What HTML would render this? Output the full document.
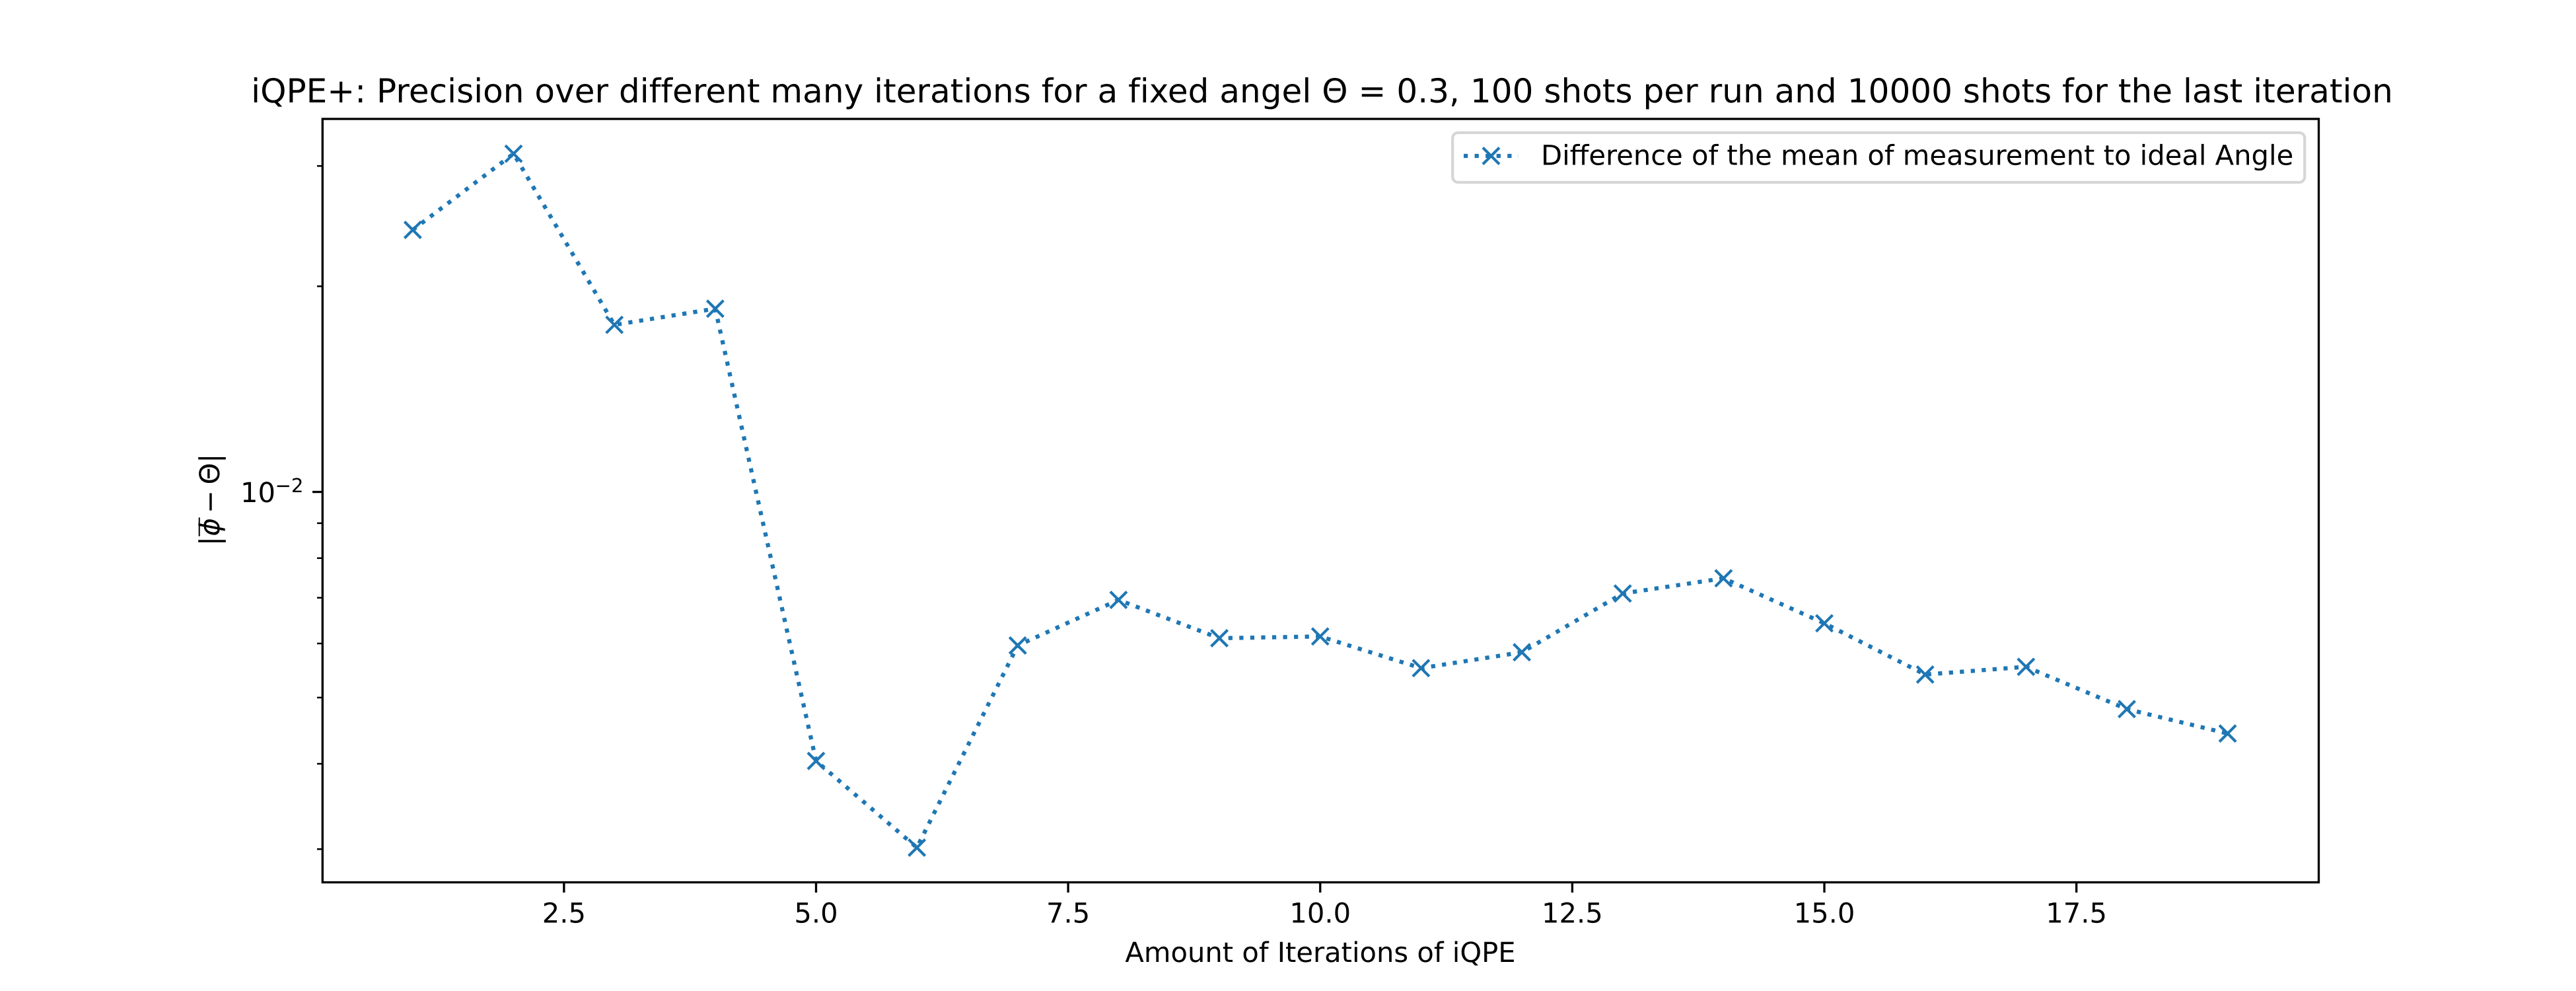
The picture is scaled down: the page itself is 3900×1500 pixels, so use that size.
<!DOCTYPE html>
<html lang="en">
<head>
<meta charset="utf-8">
<title>iQPE+ precision chart</title>
<style>
  html, body { margin: 0; padding: 0; background: #fff; }
  svg { display: block; }
  text { font-family: "DejaVu Sans", "Liberation Sans", sans-serif; fill: #000; text-rendering: geometricPrecision; }
</style>
</head>
<body>
<svg id="chart" xmlns="http://www.w3.org/2000/svg" width="3900" height="1500" viewBox="0 0 3900 1500">
  <rect x="0" y="0" width="3900" height="1500" fill="#ffffff"/>
  <text x="2001.5" y="155" font-size="50" letter-spacing="0.04" text-anchor="middle">iQPE+: Precision over different many iterations for a fixed angel Θ = 0.3, 100 shots per run and 10000 shots for the last iteration</text>
  <g id="ticks"></g>
  <polyline id="series-line" fill="none" stroke="#1f77b4" stroke-width="6.25" stroke-dasharray="6.25 10.31" stroke-linejoin="round"></polyline>
  <g id="markers"></g>
  <rect x="488.3" y="180" width="3022.2" height="1155.5" fill="none" stroke="#000" stroke-width="3.33"/>
  <text x="1999" y="1456" font-size="41.67" text-anchor="middle">Amount of Iterations of iQPE</text>
  <g font-size="41.67">
    <text transform="translate(332 826) rotate(-90)">|</text>
    <text transform="translate(332 811.5) rotate(-90)" font-style="italic">ϕ</text>
    <line x1="301.7" y1="783.3" x2="301.7" y2="811.7" stroke="#000" stroke-width="2"/>
    <text transform="translate(332 777) rotate(-90)">−</text>
    <text transform="translate(332 733.4) rotate(-90)">Θ</text>
    <text transform="translate(332 700.7) rotate(-90)">|</text>
  </g>
  <g>
    <rect x="2199.2" y="200.8" width="1290" height="75.2" rx="8.3" ry="8.3" fill="#ffffff" fill-opacity="0.8" stroke="#cccccc" stroke-opacity="0.8" stroke-width="4.17"/>
    <line x1="2216" y1="236" x2="2299" y2="236" stroke="#1f77b4" stroke-width="6.25" stroke-dasharray="6.25 10.31"/>
    <path d="M2245 223.5L2270 248.5M2245 248.5L2270 223.5" stroke="#1f77b4" stroke-width="4.17" fill="none"/>
    <text x="2333" y="249.3" font-size="41.67">Difference of the mean of measurement to ideal Angle</text>
  </g>
</svg>
<script>
const iterations = [1, 2, 3, 4, 5, 6, 7, 8, 9, 10, 11, 12, 13, 14, 15, 16, 17, 18, 19];
const differences = [0.024185, 0.031266, 0.017562, 0.018544, 0.0040384, 0.0030151, 0.0059597, 0.0069497, 0.0061074, 0.0061442, 0.0055216, 0.0058251, 0.0071013, 0.0074747, 0.0064227, 0.0054037, 0.0055463, 0.0048096, 0.0044294];
const xTickValues = [2.5, 5.0, 7.5, 10.0, 12.5, 15.0, 17.5];
const xTickLabels = ["2.5", "5.0", "7.5", "10.0", "12.5", "15.0", "17.5"];
const yMajorTicks = [0.01];
const yMinorTicks = [0.03, 0.02, 0.009, 0.008, 0.007, 0.006, 0.005, 0.004, 0.003];

const NS = "http://www.w3.org/2000/svg";
const plotLeft = 487.5, plotWidth = 3022.5, plotTop = 180, plotHeight = 1155;
const xMin = 0.1, xMax = 19.9, yMin = 0.0026855, yMax = 0.035157;

function xScale(v) {
  return plotLeft + (v - xMin) / (xMax - xMin) * plotWidth;
}
function yScale(v) {
  const lo = Math.log10(yMin), hi = Math.log10(yMax);
  return plotTop + (hi - Math.log10(v)) / (hi - lo) * plotHeight;
}
function makeLine(parent, x1, y1, x2, y2, width) {
  const l = document.createElementNS(NS, "line");
  l.setAttribute("x1", x1);
  l.setAttribute("y1", y1);
  l.setAttribute("x2", x2);
  l.setAttribute("y2", y2);
  l.setAttribute("stroke", "#000");
  l.setAttribute("stroke-width", width);
  parent.appendChild(l);
  return l;
}

const ticks = document.getElementById("ticks");
xTickValues.forEach(function (v, i) {
  const x = xScale(v);
  const t = makeLine(ticks, x, 1335.5, x, 1351, 3.33);
  
  
  const label = document.createElementNS(NS, "text");
  label.setAttribute("x", x);
  label.setAttribute("y", 1396.7);
  label.setAttribute("font-size", "41.67");
  label.setAttribute("text-anchor", "middle");
  label.textContent = xTickLabels[i];
  
  
  ticks.appendChild(label);
});
yMajorTicks.forEach(function (v) {
  const y = yScale(v);
  const t = makeLine(ticks, 473, y, 488, y, 3.33);
  
  
  const label = document.createElementNS(NS, "text");
  label.setAttribute("x", 364);
  label.setAttribute("y", y + 15.5);
  label.setAttribute("font-size", "41.67");
  label.textContent = "10";
  
  
  ticks.appendChild(label);
  const exponent = document.createElementNS(NS, "text");
  exponent.setAttribute("x", 416.5);
  exponent.setAttribute("y", y + 0.5);
  exponent.setAttribute("font-size", "29.17");
  exponent.textContent = "−" + Math.abs(Math.log10(v)).toFixed(0);
  
  
  ticks.appendChild(exponent);
});
yMinorTicks.forEach(function (v) {
  const y = yScale(v);
  const t = makeLine(ticks, 480, y, 488, y, 2.5);
  
  
});

const points = iterations.map(function (n, i) {
  return [xScale(n), yScale(differences[i])];
});
document.getElementById("series-line").setAttribute("points", points.map(function (p) {
  return p[0].toFixed(2) + "," + p[1].toFixed(2);
}).join(" "));

const markers = document.getElementById("markers");
points.forEach(function (p) {
  const r = 12.5;
  const m = document.createElementNS(NS, "path");
  m.setAttribute("d", "M" + (p[0] - r) + " " + (p[1] - r) + "L" + (p[0] + r) + " " + (p[1] + r) + "M" + (p[0] - r) + " " + (p[1] + r) + "L" + (p[0] + r) + " " + (p[1] - r));
  m.setAttribute("stroke", "#1f77b4");
  m.setAttribute("stroke-width", "4.17");
  m.setAttribute("fill", "none");
  
  
  markers.appendChild(m);
});
</script>
</body>
</html>
